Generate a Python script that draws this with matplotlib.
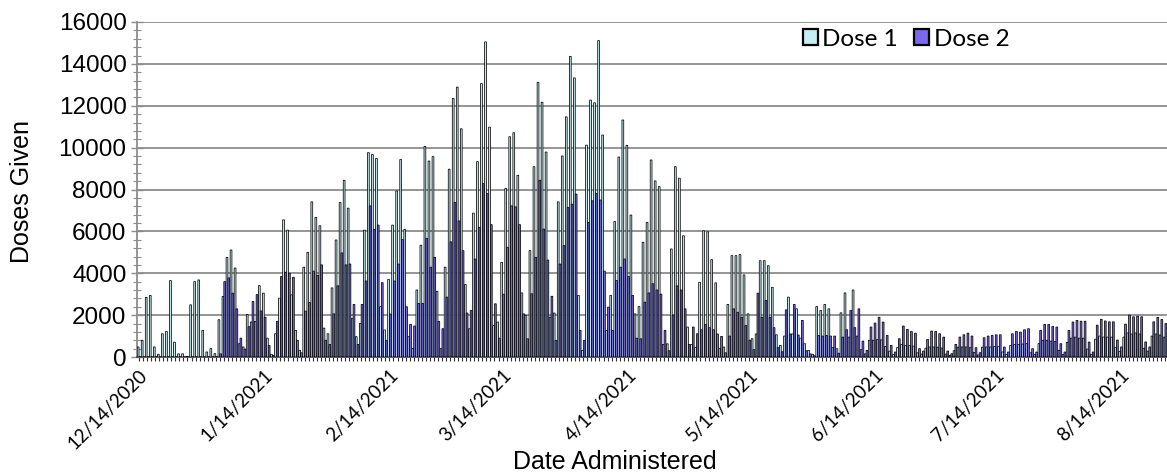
import matplotlib
matplotlib.use("Agg")
import matplotlib.pyplot as plt
import matplotlib.dates as mdates
from matplotlib.patches import Patch
from matplotlib.ticker import MultipleLocator
import pandas as pd
import numpy as np

start_date = "2020-12-14"

# Daily doses, read week by week from the chart (clustered columns)
dose1 = [
    480, 800, 2850, 2940, 480, 130,
    1110, 1220, 3650, 710, 150, 150, 20,
    2490, 3600, 3680, 1270, 240, 400, 160,
    1780, 2890, 4760, 5110, 4250, 635, 480,
    2030, 1670, 1700, 3410, 3050, 900, 130,
    1110, 2810, 6550, 6060, 2970, 1270, 320,
    4290, 5000, 7410, 6670, 6270, 1380, 1110,
    3300, 5590, 7380, 8440, 7110, 1840, 970,
    1600, 6060, 9760, 9670, 9480, 2400, 1290,
    3700, 6300, 7930, 9430, 6090, 970, 410,
    3200, 5340, 10060, 9360, 9570, 3140, 400,
    4290, 8970, 12350, 12890, 10900, 3460, 1350,
    6870, 9330, 13060, 15050, 10980, 1500, 1670,
    4520, 8050, 10520, 10710, 8680, 3060, 1980,
    5080, 9090, 13120, 12170, 9790, 1900, 2100,
    7410, 9600, 11470, 14360, 13330, 2940, 320,
    10120, 12270, 12140, 15110, 10600, 1270, 2940,
    6470, 9550, 11320, 10110, 6780, 2060, 2410,
    5480, 6430, 9410, 8410, 8140, 600, 630,
    5160, 9090, 8540, 5790, 1430, 600, 450,
    3570, 6030, 5980, 4650, 3540, 400, 476,
    2510, 4840, 4840, 4890, 3920, 2060, 873,
    1100, 4600, 4600, 4360, 3330, 1060, 555,
    1000, 2860, 1100, 2300, 900, 635, 317,
    127, 2410, 2220, 2510, 2300, 450, 397,
    2110, 3060, 950, 3200, 1000, 350, 150,
    800, 800, 830, 820, 500, 280, 120,
    450, 600, 560, 550, 520, 200, 140,
    420, 480, 480, 470, 430, 140, 80,
    300, 470, 480, 480, 450, 220, 100,
    470, 480, 480, 500, 500, 240, 120,
    555, 600, 600, 620, 640, 200, 120,
    640, 800, 800, 760, 740, 320, 120,
    700, 900, 950, 900, 900, 380, 130,
    850, 1000, 950, 950, 950, 450, 270,
    950, 1150, 1100, 1150, 1100, 420, 280,
    1000, 1100, 1050, 950,
]

dose2 = [
    0, 0, 0, 0, 0, 0,
    0, 0, 0, 0, 0, 0, 0,
    0, 0, 0, 0, 0, 0, 0,
    150, 3600, 3780, 3050, 2300, 900, 380,
    1450, 2650, 2980, 2200, 1900, 550, 80,
    1700, 3840, 4050, 4000, 3810, 800, 200,
    2190, 2600, 4100, 3900, 4400, 800, 600,
    2060, 3400, 4970, 4400, 4440, 2510, 600,
    2510, 3630, 7220, 6090, 6300, 3550, 800,
    2050, 3630, 4440, 5610, 2400, 1560, 1480,
    2560, 2560, 5660, 4290, 4760, 1700, 1350,
    2860, 5500, 7380, 6500, 5080, 2100, 2220,
    4680, 6190, 8280, 7810, 6320, 2540, 900,
    3000, 5240, 7220, 7170, 6320, 2060, 870,
    3020, 4760, 8440, 6110, 4630, 2900, 790,
    4440, 5320, 7140, 7300, 7780, 1270, 790,
    6430, 7460, 7810, 7500, 4100, 2380, 1270,
    3650, 4290, 4680, 3840, 2940, 900, 870,
    2620, 3060, 3500, 3200, 3000, 1270, 300,
    2000, 3400, 3200, 2300, 600, 1430, 1110,
    1300, 1550, 1400, 1300, 1100, 984, 200,
    1000, 2300, 2140, 1900, 1500, 800, 350,
    3050, 1900, 2700, 1900, 1400, 450, 250,
    2250, 1100, 2510, 1050, 1750, 300, 150,
    60, 1030, 1000, 1030, 1000, 1000, 180,
    950, 1300, 2220, 1400, 2300, 762, 317,
    1430, 1620, 1900, 1670, 1030, 555, 238,
    873, 1480, 1320, 1220, 1140, 397, 286,
    841, 1240, 1220, 1110, 952, 286, 159,
    603, 952, 1060, 1140, 1000, 444, 206,
    920, 1000, 1030, 1060, 1060, 476, 238,
    1110, 1220, 1190, 1300, 1350, 397, 238,
    1270, 1555, 1555, 1460, 1430, 635, 238,
    1270, 1670, 1750, 1710, 1710, 714, 238,
    1520, 1800, 1720, 1680, 1680, 810, 480,
    1570, 2000, 1920, 1950, 1920, 720, 480,
    1680, 1890, 1790, 1600,
]

series_names = ["Dose 1", "Dose 2"]
tick_dates = ["2020-12-14", "2021-01-14", "2021-02-14", "2021-03-14", "2021-04-14",
              "2021-05-14", "2021-06-14", "2021-07-14", "2021-08-14"]
tick_labels = ["12/14/2020", "1/14/2021", "2/14/2021", "3/14/2021", "4/14/2021",
               "5/14/2021", "6/14/2021", "7/14/2021", "8/14/2021"]
y_ticks = [0, 2000, 4000, 6000, 8000, 10000, 12000, 14000, 16000]

color_d1 = "#C4EEF3"
color_d2 = "#7B68EE"

assert len(dose1) == len(dose2)
dates = pd.date_range(start_date, periods=len(dose1), freq="D")
x = mdates.date2num(dates.to_pydatetime())

W, H = 1167, 474
fig = plt.figure(figsize=(W / 100, H / 100), dpi=100)
left, right, top, bottom = 137, 1167, 22, 357
ax = fig.add_axes([left / W, 1 - bottom / H, (right - left) / W, (bottom - top) / H])

bw = 0.44
b1 = ax.bar(x - bw / 2, dose1, width=bw, color=color_d1, edgecolor="black",
            linewidth=0.55, zorder=3)
b2 = ax.bar(x + bw / 2, dose2, width=bw, color=color_d2, edgecolor="black",
            linewidth=0.55, zorder=3)
for p in list(b1) + list(b2):
    p.set_snap(False)

ax.set_xlim(x[0] - 0.5, x[-1] + 0.5)
ax.set_ylim(0, 16000)
ax.set_yticks(y_ticks)
ax.yaxis.set_minor_locator(MultipleLocator(400))
ax.grid(axis="y", which="major", color="#8C8C8C", linewidth=1.3, zorder=0)

ax.set_xticks(mdates.date2num(pd.to_datetime(tick_dates).to_pydatetime()))
ax.set_xticklabels(tick_labels, rotation=45, ha="right", rotation_mode="anchor",
                   fontfamily="Lato", fontsize=13.5)
ax.xaxis.set_minor_locator(mdates.DayLocator())
ax.tick_params(axis="x", which="both", length=3, width=0.8, color="#303030", pad=4)

ax.tick_params(axis="y", which="major", direction="inout", length=9, width=1.0,
               color="#8C8C8C", labelsize=17.5, pad=3)
ax.tick_params(axis="y", which="minor", direction="inout", length=6, width=0.8,
               color="#8C8C8C")
for lbl in ax.get_yticklabels():
    lbl.set_fontfamily("Liberation Sans")

for s in ["top", "right"]:
    ax.spines[s].set_visible(False)
ax.spines["left"].set_color("#8C8C8C")
ax.spines["left"].set_linewidth(1.3)
ax.spines["bottom"].set_color("#505050")
ax.spines["bottom"].set_linewidth(1.3)

fig.text(22 / W, 1 - 192 / H, "Doses Given", rotation=90, ha="center", va="center",
         fontsize=18, fontfamily="Liberation Sans")
fig.text(615 / W, 1 - 462 / H, "Date Administered", ha="center", va="center",
         fontsize=18, fontfamily="Liberation Sans")

handles = [Patch(facecolor=color_d1, edgecolor="black", linewidth=1.6),
           Patch(facecolor=color_d2, edgecolor="black", linewidth=1.6)]
fig.legend(handles, series_names, loc="center left", bbox_to_anchor=(803 / W, 1 - 39 / H),
           ncol=2, frameon=False, handlelength=0.6, handleheight=0.6,
           handletextpad=0.2, columnspacing=0.67, borderpad=0, borderaxespad=0,
           prop={"family": "Lato", "size": 17.5})

fig.savefig("out.png", dpi=100)
